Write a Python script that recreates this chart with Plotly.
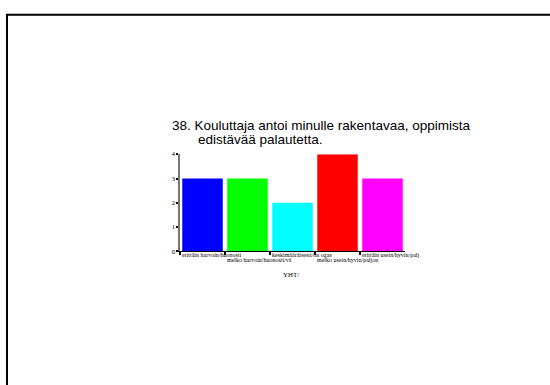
import plotly.graph_objects as go

# Response categories and counts
categories = [
    "erittäin harvoin/huonosti",
    "melko harvoin/huonosti/vä",
    "keskimääräisesti/on ogas",
    "melko usein/hyvin/paljon",
    "erittäin usein/hyvin/palj",
]
counts = [3, 3, 2, 4, 3]
bar_colors = ["#0000FF", "#00FF00", "#00FFFF", "#FF0000", "#FF00FF"]
y_ticks = [0, 1, 2, 3, 4]
title_lines = ["38. Kouluttaja antoi minulle rakentavaa, oppimista", "edistävää palautetta."]
x_title = "YHT/"

W, H = 550, 385
px = lambda v: v / W
py = lambda v: (H - v) / H

fig = go.Figure(
    go.Bar(
        x=categories,
        y=counts,
        marker=dict(color=bar_colors, line=dict(width=0)),
        showlegend=False,
    )
)

serif = "Liberation Serif"

fig.update_layout(
    width=W,
    height=H,
    margin=dict(l=0, r=0, t=0, b=0),
    paper_bgcolor="white",
    plot_bgcolor="white",
    bargap=0.1,
    xaxis=dict(
        domain=[px(180), px(405)],
        type="category",
        range=[-0.5, len(categories) - 0.5],
        showticklabels=False,
        showline=True,
        linecolor="black",
        linewidth=1,
        ticks="outside",
        tickson="boundaries",
        ticklen=3,
        tickwidth=2,
        tickcolor="black",
        showgrid=False,
        zeroline=False,
        fixedrange=True,
    ),
    yaxis=dict(
        domain=[py(252), py(153)],
        range=[0, 4],
        tickvals=y_ticks,
        ticks="outside",
        ticklen=2,
        tickwidth=1.5,
        tickcolor="black",
        showline=True,
        linecolor="#777777",
        linewidth=1.5,
        showgrid=False,
        zeroline=False,
        tickfont=dict(family=serif, size=6.5, color="black"),
        fixedrange=True,
    ),
    shapes=[
        dict(
            type="rect",
            xref="paper",
            yref="paper",
            x0=px(7),
            x1=1.2,
            y0=-0.2,
            y1=py(11),
            line=dict(color="black", width=2),
            fillcolor="rgba(0,0,0,0)",
        )
    ],
)

annotations = []
# Category labels, left-aligned at each category start, in two staggered rows
for i, cat in enumerate(categories):
    annotations.append(
        dict(
            x=cat,
            xref="x",
            y=py(256 if i % 2 == 0 else 261),
            yref="paper",
            text=cat,
            showarrow=False,
            xanchor="left",
            yanchor="middle",
            xshift=-22.5,
            font=dict(family=serif, size=6, color="black"),
        )
    )

annotations.append(
    dict(
        x=px(291),
        y=py(276),
        xref="paper",
        yref="paper",
        text=x_title,
        showarrow=False,
        xanchor="center",
        yanchor="middle",
        font=dict(family=serif, size=7, color="black"),
    )
)

# Two-line title, second line indented
annotations.append(
    dict(
        x=px(170),
        y=py(124),
        xref="paper",
        yref="paper",
        text=title_lines[0],
        showarrow=False,
        xanchor="left",
        yanchor="middle",
        font=dict(family="Liberation Sans", size=13.5, color="black"),
    )
)
annotations.append(
    dict(
        x=px(196),
        y=py(138),
        xref="paper",
        yref="paper",
        text=title_lines[1],
        showarrow=False,
        xanchor="left",
        yanchor="middle",
        font=dict(family="Liberation Sans", size=13.5, color="black"),
    )
)

fig.update_layout(annotations=annotations)

fig.write_html("out.html")
